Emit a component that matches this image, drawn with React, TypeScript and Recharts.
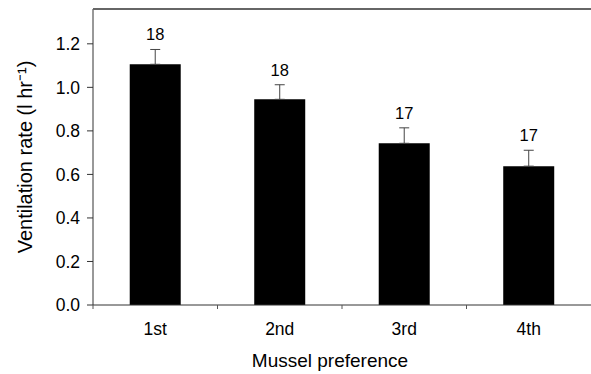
import React from 'react';
import { ComposedChart, Bar, Line, XAxis, YAxis, ErrorBar, LabelList } from 'recharts';

const categories = ['1st', '2nd', '3rd', '4th'];
const rates = [1.106, 0.945, 0.743, 0.638];
const errors = [0.068, 0.067, 0.071, 0.073];
const counts = [18, 18, 17, 17];
const yTicks = [0, 0.2, 0.4, 0.6, 0.8, 1.0, 1.2];
const yMax = 1.36;

const data = categories.map((c, i) => ({
  cat: c,
  rate: rates[i],
  err: [0, errors[i]],
  top: rates[i] + errors[i],
  n: counts[i],
}));

const font = "'Liberation Sans', Arial, sans-serif";
const X_TICK_SIZE = 6;
const X_TICK_MARGIN = 12;

function CatTick(props: any) {
  const { x, y, payload } = props;
  const off = payload && typeof payload.offset === 'number' ? payload.offset : 0;
  const axisY = y - X_TICK_SIZE - X_TICK_MARGIN;
  return (
    <g>
      {off > 0 && (
        <line x1={x - off} x2={x - off} y1={axisY} y2={axisY + 4} stroke="#555" strokeWidth={1} />
      )}
      <text
        x={x}
        y={y}
        dy="0.71em"
        textAnchor="middle"
        fill="#000"
        fontSize={17.5}
        fontFamily={font}
      >
        {payload.value}
      </text>
    </g>
  );
}

export default function App() {
  return (
    <div style={{ position: 'absolute', left: 0, top: 0, width: 591, height: 374, background: '#fff' }}>
      <ComposedChart
        width={591}
        height={374}
        data={data}
        margin={{ top: 9, right: 0, left: 0, bottom: 0 }}
        barCategoryGap="29.5%"
      >
        <XAxis
          dataKey="cat"
          height={69}
          axisLine={{ stroke: '#333', strokeWidth: 1 }}
          tickLine={false}
          tickSize={X_TICK_SIZE}
          tickMargin={X_TICK_MARGIN}
          tick={<CatTick />}
          label={{
            value: 'Mussel preference',
            position: 'insideBottom',
            offset: 7,
            dx: -12,
            fill: '#000',
            fontSize: 19,
            fontFamily: font,
          }}
        />
        <YAxis
          width={93}
          domain={[0, yMax]}
          ticks={yTicks}
          allowDataOverflow
          tickFormatter={(v: number) => v.toFixed(1)}
          axisLine={{ stroke: '#333', strokeWidth: 1 }}
          tickLine={{ stroke: '#333' }}
          tickSize={6}
          tickMargin={7}
          tick={{ fill: '#000', fontSize: 17.5, fontFamily: font }}
          label={{
            value: 'Ventilation rate (l hr\u207B\u00B9)',
            angle: -90,
            position: 'insideLeft',
            offset: 25,
            style: { textAnchor: 'middle' },
            fill: '#000',
            fontSize: 20,
            fontFamily: font,
          }}
        />
        <Bar dataKey="rate" fill="#000" isAnimationActive={false}>
          <ErrorBar dataKey="err" direction="y" width={5} stroke="#444" strokeWidth={1} />
        </Bar>
        <Line
          dataKey="top"
          stroke="none"
          dot={false}
          activeDot={false}
          isAnimationActive={false}
        >
          <LabelList
            dataKey="n"
            position="top"
            offset={9}
            fill="#000"
            fontSize={16.5}
            fontFamily={font}
          />
        </Line>
      </ComposedChart>
      <div
        style={{
          position: 'absolute',
          left: 93,
          top: 8,
          width: 498,
          height: 2,
          background: '#666',
          zIndex: 5,
        }}
      />
    </div>
  );
}
